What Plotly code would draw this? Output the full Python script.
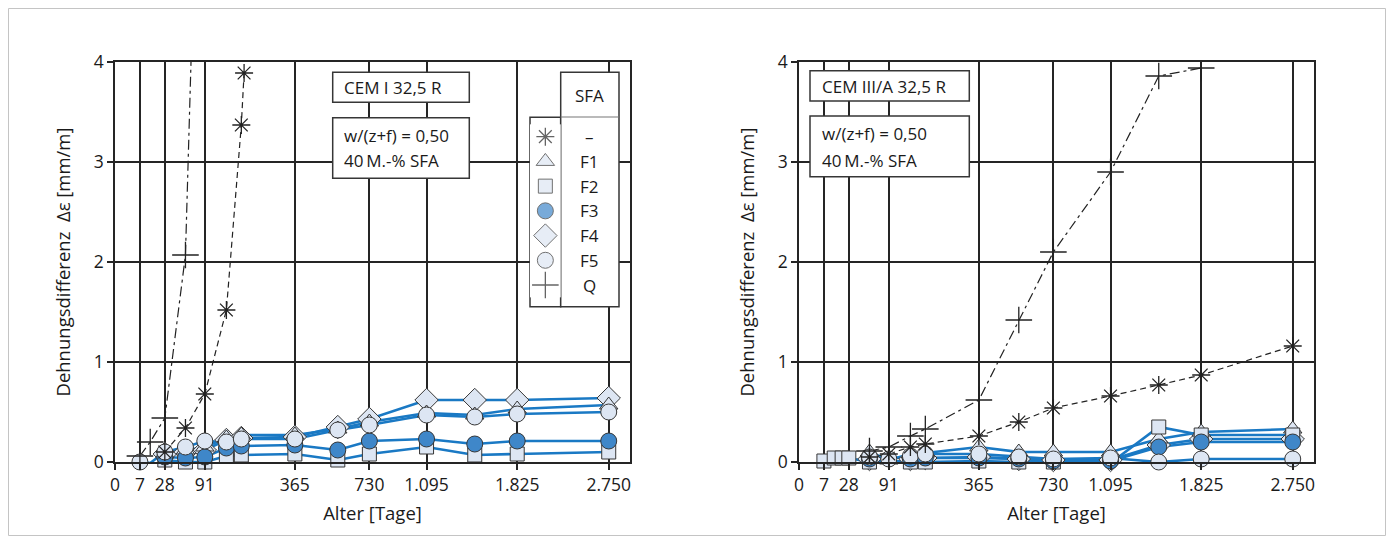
import numpy as np
import plotly.graph_objects as go

# ---------------- data (days, Δε in mm/m) ----------------
tick_days = [0, 7, 28, 91, 365, 730, 1095, 1825, 2750]
tick_text = ["0", "7", "28", "91", "365", "730", "1.095", "1.825", "2.750"]

# left: CEM I 32,5 R
L_F5_days = [7, 14, 28, 56, 91, 140, 180, 365, 560, 730, 1095, 1460, 1825, 2750]
L_F5 = [0.0, -0.01, 0.10, 0.15, 0.21, 0.20, 0.23, 0.23, 0.32, 0.37, 0.47, 0.45, 0.48, 0.50]
L_days = [28, 56, 91, 140, 180, 365, 560, 730, 1095, 1460, 1825, 2750]
L_F1 = [0.08, 0.12, 0.15, 0.24, 0.27, 0.27, 0.33, 0.40, 0.49, 0.47, 0.53, 0.57]
L_F2 = [0.02, 0.00, 0.00, 0.06, 0.07, 0.08, 0.02, 0.08, 0.15, 0.07, 0.08, 0.10]
L_F3 = [0.05, 0.04, 0.05, 0.14, 0.16, 0.17, 0.12, 0.21, 0.23, 0.18, 0.21, 0.21]
L_F4 = [0.08, 0.10, 0.12, 0.22, 0.24, 0.25, 0.35, 0.43, 0.62, 0.62, 0.62, 0.64]
L_star_days = [28, 56, 91, 140, 180, 188]
L_star = [0.10, 0.34, 0.68, 1.52, 3.37, 3.89]
L_Q_days = [7, 14, 28, 56, 91]
L_Q = [0.06, 0.20, 0.44, 2.07, 8.8]

# right: CEM III/A 32,5 R
R_F2_days = [7, 14, 21, 28, 56, 91, 140, 180, 365, 545, 730, 1095, 1460, 1825, 2750]
R_F2 = [0.01, 0.04, 0.04, 0.04, 0.00, -0.03, 0.00, 0.00, 0.01, 0.00, 0.00, -0.01, 0.35, 0.27, 0.27]
R_days = [56, 91, 140, 180, 365, 545, 730, 1095, 1460, 1825, 2750]
R_F1 = [0.10, 0.02, 0.08, 0.09, 0.15, 0.10, 0.10, 0.10, 0.23, 0.30, 0.33]
R_F3 = [0.03, -0.01, 0.03, 0.04, 0.04, 0.03, 0.01, 0.01, 0.15, 0.20, 0.20]
R_F4 = [0.03, -0.01, 0.03, 0.04, 0.05, 0.03, 0.02, 0.02, 0.17, 0.23, 0.23]
R_F5 = [0.05, 0.03, 0.06, 0.08, 0.08, 0.05, 0.03, 0.04, 0.00, 0.03, 0.03]
R_star_days = [56, 91, 140, 180, 365, 545, 730, 1095, 1460, 1825, 2750]
R_star = [0.05, 0.08, 0.15, 0.18, 0.26, 0.40, 0.54, 0.66, 0.77, 0.87, 1.16]
R_Q_days = [56, 91, 140, 180, 365, 545, 730, 1095, 1460, 1825]
R_Q = [0.11, 0.15, 0.26, 0.33, 0.62, 1.42, 2.10, 2.90, 3.86, 3.94]

legend_names = ["–", "F1", "F2", "F3", "F4", "F5", "Q"]

# ---------------- styles ----------------
FONT = "Open Sans"
TXT = "#1a1a1a"
GRID = "#252525"
BLUE = "#1a79c4"
LIGHT = "#dde6f3"
FILL3 = "#3f87c9"
EDGE = "#363636"

STY = {
    "–":  dict(symbol="asterisk-open", size=15, color="#222", lw=1.3),
    "F1": dict(symbol="triangle-up", size=16, color=LIGHT, lw=1),
    "F2": dict(symbol="square", size=14, color=LIGHT, lw=1),
    "F3": dict(symbol="circle", size=16, color=FILL3, lw=1),
    "F4": dict(symbol="diamond", size=18, color=LIGHT, lw=1),
    "F5": dict(symbol="circle", size=16, color=LIGHT, lw=1),
    "Q":  dict(symbol="cross-thin-open", size=19, color="#222", lw=1.3),
}

# the page body has an 8px margin: figure origin sits at page (8, 8)
OFF = 8
W, H = 1378, 528
ML, MT = 115 - OFF, 62 - OFF
MR = (W + OFF) - 1314
MB = (H + OFF) - 462
PW, PH = W - ML - MR, H - MT - MB
XMAX = 54.7
SC = 515 / XMAX


def pxx(px):  # page x -> paper
    return (px - OFF - ML) / PW


def pxy(py):  # page y -> paper
    return (MT + PH - (py - OFF)) / PH


def dx(px, x0):  # page x -> data x of a subplot whose left edge is x0
    return (px - x0) / SC


def dy(py):  # page y -> data y
    return (462 - py) / 100.0


fig = go.Figure()


def blue_lines(days, vals, xa, ya):
    fig.add_trace(go.Scatter(x=np.sqrt(days), y=vals, mode="lines", xaxis=xa, yaxis=ya,
                             line=dict(color=BLUE, width=2.6), showlegend=False, hoverinfo="skip"))


def markers(days, vals, name, xa, ya, clip=False):
    s = STY[name]
    fig.add_trace(go.Scatter(x=np.sqrt(days), y=vals, mode="markers", xaxis=xa, yaxis=ya,
                             cliponaxis=clip,
                             marker=dict(symbol=s["symbol"], size=s["size"], color=s["color"],
                                         line=dict(color=EDGE if name not in ("–", "Q") else "#222",
                                                   width=s["lw"])),
                             showlegend=False, name=name))


def black(days, vals, dash, xa, ya):
    fig.add_trace(go.Scatter(x=np.sqrt(days), y=vals, mode="lines", xaxis=xa, yaxis=ya,
                             line=dict(color="#222", width=1.2, dash=dash), showlegend=False))


sets = [
    ("x", "y", {"F4": (L_days, L_F4), "F1": (L_days, L_F1), "F2": (L_days, L_F2),
                "F3": (L_days, L_F3), "F5": (L_F5_days, L_F5)},
     (L_star_days, L_star), (L_Q_days, L_Q)),
    ("x2", "y2", {"F4": (R_days, R_F4), "F1": (R_days, R_F1), "F2": (R_F2_days, R_F2),
                  "F3": (R_days, R_F3), "F5": (R_days, R_F5)},
     (R_star_days, R_star), (R_Q_days, R_Q)),
]

for xa, ya, blues, star, q in sets:
    for nm, (d, v) in blues.items():
        blue_lines(d, v, xa, ya)
    black(star[0], star[1], "6px,4px", xa, ya)
    black(q[0], q[1], "10px,4px,3px,4px", xa, ya)
    for nm, (d, v) in blues.items():
        markers(d, v, nm, xa, ya, clip=False)
    markers(star[0], star[1], "–", xa, ya, clip=True)
    markers(q[0], q[1], "Q", xa, ya, clip=True)

# legend symbols in the table (own hidden axes)
fig.add_trace(go.Scatter(
    x=[0] * len(legend_names), y=list(range(len(legend_names))), mode="markers",
    xaxis="x3", yaxis="y3", cliponaxis=False, showlegend=False,
    marker=dict(symbol=[STY[n]["symbol"] for n in legend_names],
                size=[STY[n]["size"] for n in legend_names],
                color=[STY[n]["color"] for n in legend_names],
                line=dict(color=[("#222" if n in ("–", "Q") else EDGE) for n in legend_names],
                          width=[STY[n]["lw"] for n in legend_names]))))

ytitle = "Dehnungsdifferenz\u00a0 \u0394\u03b5 [mm/m]"
TICKF = dict(family=FONT, size=17.5, color=TXT)
TITF = dict(family=FONT, size=18.5, color=TXT)
common_x = dict(range=[0, XMAX], tickmode="array", tickvals=[float(np.sqrt(v)) for v in tick_days],
                ticktext=tick_text, showgrid=True, gridcolor=GRID, gridwidth=1.5,
                showline=True, linecolor=GRID, linewidth=1.5, mirror=True,
                ticks="outside", ticklen=6, tickcolor=GRID, tickwidth=1.5, zeroline=False,
                tickfont=TICKF, title=dict(text="Alter [Tage]", font=TITF, standoff=12))
common_y = dict(range=[0, 4], tickmode="linear", tick0=0, dtick=1, showgrid=True, gridcolor=GRID,
                gridwidth=1.5, showline=True, linecolor=GRID, linewidth=1.5, mirror=True,
                ticks="outside", ticklen=6, tickcolor=GRID, tickwidth=1.5, zeroline=False,
                tickfont=TICKF, title=dict(text=ytitle, font=TITF, standoff=18))

LDOM = [0, pxx(630)]
RDOM = [pxx(799), 1]

shapes = []
annos = []


def box(x0, y0, x1, y1, xa, ya, xoff):
    shapes.append(dict(type="rect", xref=xa, yref=ya, layer="between",
                       x0=dx(x0, xoff), x1=dx(x1, xoff), y0=dy(y1), y1=dy(y0),
                       fillcolor="white", line=dict(color=EDGE, width=1.5)))


def text(px, py, s, anchor="left", size=17):
    annos.append(dict(xref="paper", yref="paper", x=pxx(px), y=pxy(py), text=s, showarrow=False,
                      xanchor=anchor, yanchor="middle", font=dict(family=FONT, size=size, color=TXT)))


# left boxes
box(332.7, 72.3, 469.3, 102.3, "x", "y", 115)
box(332.7, 117.7, 469.3, 178.3, "x", "y", 115)
text(342, 87.5, "CEM I 32,5 R")
text(342, 135, "w/(z+f) = 0,50")
text(342, 160, "40\u2009M.-% SFA")
# legend table
box(530, 117.3, 560.7, 306.7, "x", "y", 115)
box(560.7, 72.3, 619, 306.7, "x", "y", 115)
shapes.append(dict(type="line", xref="x", yref="y", layer="between",
                   x0=dx(560.7, 115), x1=dx(619, 115), y0=dy(117), y1=dy(117),
                   line=dict(color="#777", width=1.2)))
text(589.8, 95, "SFA", anchor="center")
for i, n in enumerate(legend_names):
    annos.append(dict(xref="paper", yref="y3", x=pxx(589.8), y=i, text=n, showarrow=False,
                      xanchor="center", yanchor="middle", font=dict(family=FONT, size=17, color=TXT)))

# right boxes
box(810, 70.7, 969.3, 101, "x2", "y2", 799)
box(810, 116, 969.3, 176.7, "x2", "y2", 799)
text(820, 86, "CEM III/A 32,5 R")
text(820, 133, "w/(z+f) = 0,50")
text(820, 160, "40\u2009M.-% SFA")

# outer frame
shapes.append(dict(type="rect", xref="paper", yref="paper", layer="below",
                   x0=pxx(8.5), x1=pxx(1385.5), y0=pxy(535.5), y1=pxy(8.5),
                   line=dict(color="#c4c4c4", width=1), fillcolor="rgba(0,0,0,0)"))

row_px = (285 - 136.7) / 6
fig.update_layout(
    width=W, height=H, margin=dict(l=ML, r=MR, t=MT, b=MB),
    paper_bgcolor="white", plot_bgcolor="white", showlegend=False,
    font=dict(family=FONT, color=TXT),
    xaxis=dict(common_x, domain=LDOM, anchor="y"),
    yaxis=dict(common_y, domain=[0, 1], anchor="x"),
    xaxis2=dict(common_x, domain=RDOM, anchor="y2"),
    yaxis2=dict(common_y, domain=[0, 1], anchor="x2"),
    xaxis3=dict(domain=[pxx(530), pxx(560.7)], range=[-1, 1], visible=False, anchor="y3"),
    yaxis3=dict(domain=[pxy(285 + row_px / 2), pxy(136.7 - row_px / 2)], range=[6.5, -0.5],
                visible=False, anchor="x3"),
    shapes=shapes, annotations=annos,
)

fig.write_html("out.html")
